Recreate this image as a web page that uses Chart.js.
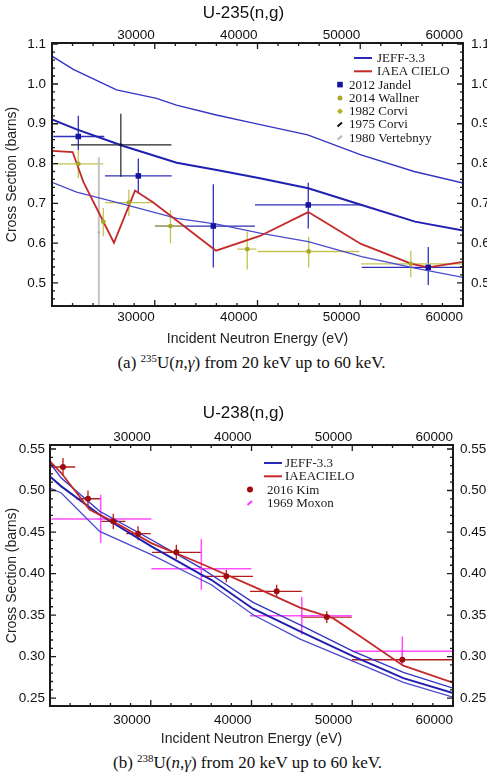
<!DOCTYPE html>
<html lang="en">
<head>
<meta charset="UTF-8" />
<title>U(n,g) capture cross sections</title>
<script src="https://cdn.jsdelivr.net/npm/chart.js"></script>
<style>
  body { margin: 0; background: #fff; width: 487px; height: 779px; position: relative; overflow: hidden; }
  canvas { position: absolute; left: 0; }
  .cap { position: absolute; width: 487px; text-align: center; font: 17px "Liberation Serif", serif; color: #111; line-height: 20px; }
  .cap sup { font-size: 11px; line-height: 0; vertical-align: 6px; }
</style>
</head>
<body>
<canvas id="u235" width="487" height="348" style="top:0"></canvas>
<div class="cap" style="top:353px;left:8px">(a) <sup>235</sup>U(<i>n</i>,<i>γ</i>) from 20 keV up to 60 keV.</div>
<canvas id="u238" width="487" height="353" style="top:395px"></canvas>
<div class="cap" style="top:753px;left:4px">(b) <sup>238</sup>U(<i>n</i>,<i>γ</i>) from 20 keV up to 60 keV.</div>
<script>
// tick labels
const xTickValues = [30000, 40000, 50000, 60000];
const u235YTicks = [0.5, 0.6, 0.7, 0.8, 0.9, 1.0, 1.1];
const u238YTicks = [0.25, 0.30, 0.35, 0.40, 0.45, 0.50, 0.55];

// ---- U-235 : evaluations (energy in eV, cross section in barns)
const u235JeffHiE = [20000, 22070, 26280, 30170, 32110, 35990, 39710, 44880, 50070, 55240, 60000];
const u235JeffHi  = [1.070, 1.037, 0.985, 0.964, 0.947, 0.922, 0.901, 0.872, 0.822, 0.780, 0.751];
const u235JeffE   = [20000, 22400, 26940, 32140, 36030, 40240, 44940, 50140, 55330, 60000];
const u235JeffMid = [0.911, 0.886, 0.844, 0.802, 0.784, 0.763, 0.738, 0.696, 0.654, 0.632];
const u235JeffLo  = [0.753, 0.728, 0.698, 0.662, 0.648, 0.625, 0.604, 0.566, 0.537, 0.514];
const u235CieloE  = [20000, 22010, 23050, 26030, 28080, 29860, 35960, 40240, 44940, 50070, 55010, 56620, 60000];
const u235Cielo   = [0.832, 0.829, 0.754, 0.601, 0.732, 0.702, 0.581, 0.618, 0.678, 0.598, 0.548, 0.539, 0.553];

// ---- U-235 : measurements
const jandelE    = [22560, 28400, 35700, 44940, 56620];
const jandelXs   = [0.868, 0.769, 0.643, 0.696, 0.539];
const jandelElo  = [20130, 25160, 30020, 39760, 50140];
const jandelEhi  = [25090, 31650, 39760, 50140, 60190];
const jandelLo   = [0.834, 0.725, 0.539, 0.637, 0.495];
const jandelHi   = [0.920, 0.813, 0.748, 0.752, 0.590];

const wallnerE   = [22560];
const wallnerXs  = [0.799];
const wallnerElo = [20130];
const wallnerEhi = [24990];
const wallnerLo  = [0.763];
const wallnerHi  = [0.834];

const corvi82E   = [24990, 27480, 31530, 39000, 44980, 54920];
const corvi82Xs  = [0.654, 0.702, 0.643, 0.585, 0.579, 0.548];
const corvi82Elo = [24800, 25160, 30020, 38030, 40000, 50070];
const corvi82Ehi = [25200, 29860, 32910, 39900, 49900, 60000];
const corvi82Lo  = [0.617, 0.668, 0.600, 0.534, 0.539, 0.514];
const corvi82Hi  = [0.688, 0.734, 0.683, 0.629, 0.616, 0.581];

const corvi75E   = [26700];
const corvi75Xs  = [0.847];
const corvi75Elo = [21850];
const corvi75Ehi = [31620];
const corvi75Lo  = [0.767];
const corvi75Hi  = [0.925];

const vertE  = [24560];
const vertXs = [0.627];
const vertLo = [0.438];
const vertHi = [0.816];

// ---- U-238 : evaluations
const u238JeffE   = [20000, 21120, 24930, 30060, 35020, 36010, 40150, 44820, 50110, 55070, 60000];
const u238JeffHi  = [0.533, 0.515, 0.475, 0.4407, 0.4066, 0.3986, 0.3653, 0.3383, 0.3063, 0.281, 0.262];
const u238JeffMid = [0.517, 0.505, 0.4708, 0.4328, 0.3986, 0.3925, 0.3576, 0.3303, 0.3002, 0.2741, 0.256];
const u238JeffLo  = [0.503, 0.497, 0.4508, 0.4227, 0.3925, 0.3865, 0.3504, 0.3211, 0.2942, 0.269, 0.2512];
const u238CieloE  = [20000, 21120, 23940, 26420, 30060, 35020, 40150, 44820, 48090, 51070, 55070, 60000];
const u238Cielo   = [0.535, 0.521, 0.4769, 0.4617, 0.4367, 0.4118, 0.3846, 0.359, 0.3463, 0.3222, 0.289, 0.2685];

// ---- U-238 : measurements
const kimE   = [21290, 23770, 26280, 28740, 32540, 37500, 42500, 47470, 54970];
const kimXs  = [0.5283, 0.4901, 0.4629, 0.448, 0.4255, 0.3966, 0.3786, 0.3476, 0.2962];
const kimElo = [20130, 22610, 25090, 27570, 30120, 35020, 39850, 44990, 49950];
const kimEhi = [22510, 25030, 27480, 29990, 35020, 40150, 44990, 49950, 60030];
const kimLo  = [0.518, 0.480, 0.4536, 0.440, 0.4175, 0.3894, 0.3705, 0.3404, 0.289];
const kimHi  = [0.539, 0.500, 0.472, 0.4569, 0.4347, 0.4046, 0.3865, 0.3545, 0.3042];

const moxonE   = [25030, 35020, 44990, 54970];
const moxonXs  = [0.4657, 0.4058, 0.3492, 0.3063];
const moxonElo = [20130, 30060, 39850, 49950];
const moxonEhi = [30060, 39980, 49950, 60030];
const moxonLo  = [0.4367, 0.3805, 0.3263, 0.289];
const moxonHi  = [0.495, 0.4416, 0.3717, 0.3243];

const SANS = '"Liberation Sans", Arial, sans-serif';
const SERIF = '"Liberation Serif", "Times New Roman", serif';
const BLUE = '#2a2ab8', RED = '#c42a2a';

function xy(xs, ys) { return xs.map((v, i) => ({ x: v, y: ys[i] })); }
function errs(elo, ehi, lo, hi) {
  return lo.map((v, i) => ({ xlo: elo ? elo[i] : null, xhi: ehi ? ehi[i] : null, ylo: v, yhi: hi[i] }));
}
function line(label, xs, ys, color, width) {
  return { label, data: xy(xs, ys), showLine: true, borderColor: color, borderWidth: width,
           pointRadius: 0, fill: false, tension: 0 };
}
function points(label, xs, ys, style, radius, color, err, errColor, errWidth) {
  return { label, data: xy(xs, ys), showLine: false, pointStyle: style, pointRadius: radius,
           backgroundColor: color, borderColor: color, borderWidth: 0, err, errColor, errWidth };
}

// frame, inward ticks, error bars and the legend box
const framePlugin = {
  id: 'frame',
  beforeDatasetsDraw(chart) {
    const { ctx, chartArea: a, scales: { x, y } } = chart;
    ctx.save();
    ctx.beginPath();
    ctx.rect(a.left, a.top, a.right - a.left, a.bottom - a.top);
    ctx.clip();
    chart.data.datasets.forEach(ds => {
      if (!ds.err) return;
      ctx.strokeStyle = ds.errColor;
      ctx.lineWidth = ds.errWidth;
      ds.data.forEach((p, i) => {
        const e = ds.err[i];
        const px = x.getPixelForValue(p.x), py = y.getPixelForValue(p.y);
        ctx.beginPath();
        if (e.xlo != null) {
          ctx.moveTo(x.getPixelForValue(e.xlo), py);
          ctx.lineTo(x.getPixelForValue(e.xhi), py);
        }
        ctx.moveTo(px, y.getPixelForValue(e.ylo));
        ctx.lineTo(px, y.getPixelForValue(e.yhi));
        ctx.stroke();
      });
    });
    ctx.restore();
  },
  afterDatasetsDraw(chart, args, opts) {
    const { ctx, chartArea: a, scales: { x, y } } = chart;
    ctx.save();
    ctx.strokeStyle = '#1a1a1a';
    ctx.lineWidth = 1.3;
    ctx.beginPath();
    tickMarks(ctx, x, a, opts.xMinor, opts.xMajor, true);
    tickMarks(ctx, y, a, opts.yMinor, opts.yMajor, false);
    ctx.stroke();
    ctx.lineWidth = 2;
    ctx.strokeRect(a.left, a.top, a.right - a.left, a.bottom - a.top);

    // legend
    const lg = opts.legend;
    ctx.font = '13px ' + SERIF;
    ctx.textBaseline = 'middle';
    ctx.textAlign = 'left';
    lg.items.forEach((it, i) => {
      const yy = lg.y + i * lg.step;
      ctx.fillStyle = it.color;
      ctx.strokeStyle = it.color;
      let tx = lg.markerText;
      if (it.type === 'line') {
        ctx.lineWidth = 2;
        ctx.beginPath(); ctx.moveTo(lg.line0, yy); ctx.lineTo(lg.line1, yy); ctx.stroke();
        tx = lg.lineText;
      } else if (it.type === 'rect') {
        ctx.fillRect(lg.marker - 2.8, yy - 2.8, 5.6, 5.6);
      } else if (it.type === 'circle') {
        ctx.beginPath(); ctx.arc(lg.marker, yy, it.r || 2.5, 0, Math.PI * 2); ctx.fill();
      } else if (it.type === 'diamond') {
        ctx.beginPath();
        ctx.moveTo(lg.marker, yy - 3); ctx.lineTo(lg.marker + 3, yy);
        ctx.lineTo(lg.marker, yy + 3); ctx.lineTo(lg.marker - 3, yy); ctx.closePath(); ctx.fill();
      } else if (it.type === 'dash') {
        ctx.lineWidth = 2;
        ctx.beginPath(); ctx.moveTo(lg.marker - 2.5, yy + 2); ctx.lineTo(lg.marker + 2, yy - 2); ctx.stroke();
      }
      ctx.fillStyle = '#1a1a1a';
      ctx.fillText(it.text, tx, yy + 0.5);
    });
    ctx.restore();
  }
};

function tickMarks(ctx, scale, a, step, major, horizontal) {
  const first = Math.ceil(scale.min / step - 1e-6);
  const last = Math.floor(scale.max / step + 1e-6);
  for (let k = first; k <= last; k++) {
    const v = k * step;
    const r = v / major;
    const len = Math.abs(r - Math.round(r)) < 1e-4 ? 6 : 3;
    const p = scale.getPixelForValue(v);
    if (horizontal) {
      ctx.moveTo(p, a.bottom); ctx.lineTo(p, a.bottom - len);
      ctx.moveTo(p, a.top); ctx.lineTo(p, a.top + len);
    } else {
      ctx.moveTo(a.left, p); ctx.lineTo(a.left + len, p);
      ctx.moveTo(a.right, p); ctx.lineTo(a.right - len, p);
    }
  }
}

function makeChart(id, c) {
  const tickFont = { family: SANS, size: 13.5 };
  const axisFont = { family: SANS, size: 14 };
  const xAxis = (pos, h, pad, title) => ({
    type: 'linear', position: pos, min: 20000, max: 60000,
    grid: { display: false, drawTicks: false }, border: { display: false },
    afterBuildTicks: s => { s.ticks = xTickValues.map(v => ({ value: v })); },
    afterFit: s => { s.height = h; },
    ticks: { align: 'end', autoSkip: false, maxRotation: 0, padding: pad, color: '#111', font: tickFont,
             callback: v => String(v) },
    title: title ? { display: true, text: 'Incident Neutron Energy (eV)', font: axisFont, color: '#222',
                     padding: { top: 0, bottom: 0 } } : { display: false }
  });
  const yAxis = (pos, w, pad, title) => ({
    type: 'linear', position: pos, min: c.yMin, max: c.yMax,
    grid: { display: false, drawTicks: false }, border: { display: false },
    afterBuildTicks: s => { s.ticks = c.yTicks.map(v => ({ value: v })); },
    afterFit: s => { s.width = w; },
    ticks: { autoSkip: false, padding: pad, color: '#111', font: tickFont,
             callback: v => v.toFixed(c.decimals) },
    title: title ? { display: true, text: 'Cross Section (barns)', font: axisFont, color: '#222',
                     padding: { top: 3.6, bottom: 0 } } : { display: false }
  });
  return new Chart(document.getElementById(id), {
    type: 'scatter',
    data: { datasets: c.datasets },
    options: {
      responsive: false,
      animation: false,
      devicePixelRatio: 1,
      layout: { padding: 0 },
      scales: {
        x: xAxis('bottom', 42, c.bottomPad, true),
        x2: xAxis('top', c.topH, 0, false),
        y: yAxis('left', c.leftW, c.leftPad, true),
        y2: yAxis('right', c.rightW, c.rightPad, false)
      },
      plugins: {
        legend: { display: false },
        tooltip: { enabled: false },
        title: { display: true, text: c.title, color: '#111',
                 font: { family: SANS, size: 17, weight: 'normal' },
                 padding: { top: c.titlePad, bottom: 0 } },
        frame: c.frame
      }
    },
    plugins: [framePlugin]
  });
}

makeChart('u235', {
  title: 'U-235(n,g)', titlePad: 2.8, topH: 19.8, bottomPad: 3,
  leftW: 52, rightW: 24, leftPad: 6, rightPad: 8,
  yMin: 0.442, yMax: 1.103, yTicks: u235YTicks, decimals: 1,
  frame: {
    xMinor: 2000, xMajor: 10000, yMinor: 0.02, yMajor: 0.1,
    legend: {
      y: 58, step: 13.3, marker: 340, markerText: 349, line0: 354, line1: 372, lineText: 377,
      items: [
        { type: 'line', color: BLUE, text: 'JEFF-3.3' },
        { type: 'line', color: RED, text: 'IAEA CIELO' },
        { type: 'rect', color: '#1414a0', text: '2012 Jandel' },
        { type: 'circle', color: '#a8a828', text: '2014 Wallner' },
        { type: 'diamond', color: '#b4b42c', text: '1982 Corvi' },
        { type: 'dash', color: '#111', text: '1975 Corvi' },
        { type: 'dash', color: '#b8b8b8', text: '1980 Vertebnyy' }
      ]
    }
  },
  datasets: [
    points('2012 Jandel', jandelE, jandelXs, 'rect', 3.9, '#1414a0',
           errs(jandelElo, jandelEhi, jandelLo, jandelHi), '#2f2fbb', 1.3),
    points('2014 Wallner', wallnerE, wallnerXs, 'circle', 2.4, '#a8a828',
           errs(wallnerElo, wallnerEhi, wallnerLo, wallnerHi), '#c4c450', 1.3),
    points('1982 Corvi', corvi82E, corvi82Xs, 'circle', 2.4, '#a8a828',
           errs(corvi82Elo, corvi82Ehi, corvi82Lo, corvi82Hi), '#c4c450', 1.3),
    points('1975 Corvi', corvi75E, corvi75Xs, 'circle', 1.5, '#111',
           errs(corvi75Elo, corvi75Ehi, corvi75Lo, corvi75Hi), '#222', 1.2),
    points('1980 Vertebnyy', vertE, vertXs, 'circle', 1.2, '#b0b0b0',
           errs(null, null, vertLo, vertHi), '#c8c8c8', 2.2),
    line('IAEA CIELO', u235CieloE, u235Cielo, RED, 1.8),
    line('JEFF-3.3', u235JeffE, u235JeffMid, '#2020b0', 2),
    line('JEFF-3.3 upper', u235JeffHiE, u235JeffHi, '#3434c4', 1.4),
    line('JEFF-3.3 lower', u235JeffE, u235JeffLo, '#4a4ad0', 1.3)
  ]
});

makeChart('u238', {
  title: 'U-238(n,g)', titlePad: 7.8, topH: 21.8, bottomPad: 6,
  leftW: 50, rightW: 34, leftPad: 5, rightPad: 7,
  yMin: 0.2405, yMax: 0.5548, yTicks: u238YTicks, decimals: 2,
  frame: {
    xMinor: 2000, xMajor: 10000, yMinor: 0.01, yMajor: 0.05,
    legend: {
      y: 68, step: 13.3, marker: 250, markerText: 267, line0: 264, line1: 282, lineText: 285,
      items: [
        { type: 'line', color: BLUE, text: 'JEFF-3.3' },
        { type: 'line', color: RED, text: 'IAEACIELO' },
        { type: 'circle', color: '#a00c0c', text: '2016 Kim', r: 3 },
        { type: 'dash', color: '#ff33ff', text: '1969 Moxon' }
      ]
    }
  },
  datasets: [
    points('2016 Kim', kimE, kimXs, 'circle', 3, '#a00c0c',
           errs(kimElo, kimEhi, kimLo, kimHi), '#b41c1c', 1.3),
    points('1969 Moxon', moxonE, moxonXs, 'circle', 1.2, '#ff33ff',
           errs(moxonElo, moxonEhi, moxonLo, moxonHi), '#ff4dff', 1.5),
    line('IAEACIELO', u238CieloE, u238Cielo, RED, 1.8),
    line('JEFF-3.3', u238JeffE, u238JeffMid, '#2020b0', 2),
    line('JEFF-3.3 upper', u238JeffE, u238JeffHi, '#3434c4', 1.4),
    line('JEFF-3.3 lower', u238JeffE, u238JeffLo, '#4a4ad0', 1.3)
  ]
});
</script>
</body>
</html>
